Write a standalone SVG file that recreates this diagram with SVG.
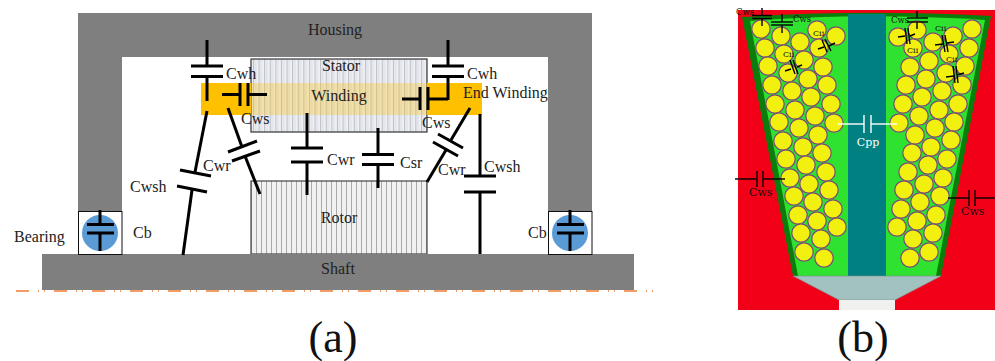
<svg xmlns="http://www.w3.org/2000/svg" width="995" height="361" viewBox="0 0 995 361">
<style>
text{font-family:"Liberation Serif","DejaVu Serif",serif;fill:#222}
.l{font-size:16px}
.cap{font-size:44px;fill:#111}
.s{font-family:"DejaVu Serif",serif;font-size:8.5px;fill:#111}
.t{font-family:"DejaVu Serif",serif;font-size:8px;fill:#111}
.c{text-anchor:middle}
.gr{fill:#7f7f7f}
line{stroke:#000;stroke-linecap:butt}
#connectors-a line{stroke-width:3}
#connectors-b line{stroke-width:1.4}
#connectors-b line.w{stroke:#fff}
.coil circle{fill:#f2f00f;stroke:#7a4a78;stroke-width:1.2;r:9.2px}
</style>
<defs>
<pattern id="st" width="5.6" height="10" patternUnits="userSpaceOnUse"><rect width="5.6" height="10" fill="#edeff4"/><rect x="1" width="1" height="10" fill="#b8bcc4"/><rect x="3.2" width="1" height="10" fill="#dcdee4"/></pattern>
<pattern id="ro" width="5" height="10" patternUnits="userSpaceOnUse"><rect width="5" height="10" fill="#f1f1f1"/><rect x="1" width="1" height="10" fill="#a9a9a9"/></pattern>
</defs>
<g id="housing">
<path class="gr" d="M78 13H592V211H548V57H122V211H78Z"/>
<text class="l c" x="335" y="35">Housing</text>
</g>
<g id="stator">
<rect x="251" y="59" width="176" height="73" fill="url(#st)" stroke="#333" stroke-width="1.2"/>
<text class="l c" x="341" y="71">Stator</text>
</g>
<g id="winding">
<rect x="201" y="83" width="50" height="32" fill="#ffc000"/>
<rect x="427" y="83" width="55" height="32" fill="#ffc000"/>
<rect x="251" y="83" width="176" height="32" fill="#ffc000" fill-opacity=".3"/>
<text class="l c" x="339" y="101">Winding</text>
<text class="l" x="463" y="98">End Winding</text>
</g>
<g id="rotor">
<rect x="251" y="181" width="176" height="73" fill="url(#ro)" stroke="#444" stroke-width="1.2"/>
<text class="l c" x="339" y="223">Rotor</text>
</g>
<g id="shaft">
<line x1="16" y1="291" x2="656" y2="291" style="stroke:#ed7d31;stroke-width:1.5;stroke-dasharray:13 9 1 5 1 9"/>
<rect x="42" y="254" width="592" height="36" fill="#7f7f7f"/>
<text class="l c" x="338" y="274">Shaft</text>
</g>
<g id="bearing-left">
<rect x="78.500" y="211.500" width="43.500" height="43" fill="#fff" stroke="#111" stroke-width="1"/>
<circle cx="100" cy="233" r="18" fill="#5b9bd5"/>
<text class="l" x="14" y="242">Bearing</text>
<text class="l" x="133" y="238">Cb</text>
</g>
<g id="bearing-right">
<rect x="548.500" y="211.500" width="43.500" height="43" fill="#fff" stroke="#111" stroke-width="1"/>
<circle cx="570" cy="233" r="18" fill="#5b9bd5"/>
<text class="l" x="528" y="238">Cb</text>
</g>
<g id="connectors-a">
<line x1="207" y1="40" x2="207" y2="66"/><line x1="191" y1="66" x2="223" y2="66"/><line x1="191" y1="76.500" x2="223" y2="76.500"/><line x1="207" y1="77" x2="207" y2="101"/>
<line x1="222" y1="94.500" x2="240" y2="94.500"/><line x1="240" y1="83" x2="240" y2="106"/><line x1="248" y1="83" x2="248" y2="106"/><line x1="248" y1="94.500" x2="267" y2="94.500"/>
<line x1="207" y1="111" x2="195" y2="172"/><line x1="180" y1="170" x2="211" y2="176"/><line x1="177" y1="186" x2="207" y2="192"/><line x1="192" y1="190" x2="183" y2="255"/>
<line x1="228" y1="108" x2="242" y2="147"/><line x1="228" y1="152" x2="257" y2="141"/><line x1="232" y1="161" x2="260" y2="151"/><line x1="245" y1="156" x2="260" y2="194"/>
<line x1="307" y1="113" x2="307" y2="148"/><line x1="291" y1="148" x2="323" y2="148"/><line x1="291" y1="162" x2="323" y2="162"/><line x1="307" y1="162" x2="307" y2="195"/>
<line x1="378" y1="128" x2="378" y2="154.500"/><line x1="362" y1="154.500" x2="394" y2="154.500"/><line x1="362" y1="164.500" x2="394" y2="164.500"/><line x1="378" y1="164.500" x2="378" y2="188"/>
<line x1="448" y1="40" x2="448" y2="66"/><line x1="432" y1="66" x2="464" y2="66"/><line x1="432" y1="76.500" x2="464" y2="76.500"/><line x1="448" y1="77" x2="448" y2="100"/>
<line x1="448" y1="99" x2="428" y2="99"/><line x1="428" y1="87" x2="428" y2="110"/><line x1="420" y1="87" x2="420" y2="110"/><line x1="420" y1="99" x2="402" y2="99"/>
<line x1="470" y1="108" x2="451" y2="140"/><line x1="438" y1="134" x2="463" y2="148"/><line x1="433" y1="142" x2="458" y2="156"/><line x1="446" y1="150" x2="427" y2="182"/>
<line x1="480" y1="114" x2="480" y2="176"/><line x1="464" y1="176" x2="496" y2="176"/><line x1="464" y1="192" x2="496" y2="192"/><line x1="480" y1="192" x2="480" y2="254"/>
<line x1="100" y1="210" x2="100" y2="224"/><line x1="87" y1="224.500" x2="114" y2="224.500"/><line x1="87" y1="233" x2="114" y2="233"/><line x1="100" y1="233" x2="100" y2="251"/>
<line x1="570" y1="210" x2="570" y2="224"/><line x1="557" y1="224.500" x2="584" y2="224.500"/><line x1="557" y1="233" x2="584" y2="233"/><line x1="570" y1="233" x2="570" y2="251"/>
</g>
<g id="labels-a">
<text class="l" x="226" y="79">Cwh</text><text class="l" x="467" y="79">Cwh</text>
<text class="l" x="241" y="124">Cws</text><text class="l" x="422" y="128">Cws</text>
<text class="l" x="203" y="171">Cwr</text><text class="l" x="327" y="165">Cwr</text><text class="l" x="438" y="175">Cwr</text>
<text class="l" x="400" y="168">Csr</text>
<text class="l" x="130" y="192">Cwsh</text><text class="l" x="484" y="172">Cwsh</text>
<text class="cap c" x="333" y="352">(a)</text>
</g>
<g id="slot">
<rect x="738" y="10" width="257" height="300" fill="#f20017"/>
<path d="M742 17Q860 9 991 16L941 276H793Z" fill="#0a7d0a"/>
<path d="M750 21Q860 12 985 20L936 276H798Z" fill="#2fe22f"/>
<rect x="848" y="14" width="38" height="262" fill="#008080"/>
<path d="M793 276H941L895 300H839Z" fill="#a2c1c1" stroke="#808a8a" stroke-width=".6"/>
<rect x="839" y="300" width="56" height="10" fill="#f0f0ee"/>
</g>
<g id="coils" class="coil">
<circle cx="761" cy="29" r="9"/><circle cx="781" cy="36" r="9"/><circle cx="800" cy="42" r="9"/><circle cx="817" cy="30" r="9"/><circle cx="836" cy="36" r="9"/><circle cx="819" cy="48" r="9"/><circle cx="765" cy="48" r="9"/><circle cx="784" cy="54" r="9"/><circle cx="804" cy="60" r="9"/><circle cx="823" cy="67" r="9"/><circle cx="768" cy="66" r="9"/><circle cx="788" cy="73" r="9"/><circle cx="808" cy="79" r="9"/><circle cx="827" cy="85" r="9"/><circle cx="772" cy="85" r="9"/><circle cx="792" cy="91" r="9"/><circle cx="811" cy="97" r="9"/><circle cx="831" cy="104" r="9"/><circle cx="775" cy="104" r="9"/><circle cx="795" cy="110" r="9"/><circle cx="815" cy="116" r="9"/><circle cx="779" cy="122" r="9"/><circle cx="799" cy="128" r="9"/><circle cx="818" cy="135" r="9"/><circle cx="834" cy="123" r="9"/><circle cx="783" cy="141" r="9"/><circle cx="803" cy="147" r="9"/><circle cx="822" cy="153" r="9"/><circle cx="786" cy="159" r="9"/><circle cx="806" cy="165" r="9"/><circle cx="826" cy="172" r="9"/><circle cx="790" cy="178" r="9"/><circle cx="809" cy="184" r="9"/><circle cx="829" cy="190" r="9"/><circle cx="794" cy="196" r="9"/><circle cx="813" cy="202" r="9"/><circle cx="833" cy="209" r="9"/><circle cx="798" cy="215" r="9"/><circle cx="817" cy="221" r="9"/><circle cx="837" cy="227" r="9"/><circle cx="801" cy="233" r="9"/><circle cx="821" cy="239" r="9"/><circle cx="804" cy="252" r="9"/><circle cx="824" cy="258" r="9"/>
<circle cx="898" cy="37" r="9"/><circle cx="917" cy="30" r="9"/><circle cx="913" cy="48" r="9"/><circle cx="933" cy="42" r="9"/><circle cx="953" cy="36" r="9"/><circle cx="972" cy="29" r="9"/><circle cx="949" cy="54" r="9"/><circle cx="969" cy="48" r="9"/><circle cx="910" cy="67" r="9"/><circle cx="929" cy="61" r="9"/><circle cx="946" cy="73" r="9"/><circle cx="965" cy="66" r="9"/><circle cx="906" cy="85" r="9"/><circle cx="926" cy="79" r="9"/><circle cx="962" cy="85" r="9"/><circle cx="942" cy="91" r="9"/><circle cx="903" cy="104" r="9"/><circle cx="922" cy="97" r="9"/><circle cx="958" cy="104" r="9"/><circle cx="939" cy="110" r="9"/><circle cx="919" cy="116" r="9"/><circle cx="899" cy="123" r="9"/><circle cx="915" cy="135" r="9"/><circle cx="935" cy="128" r="9"/><circle cx="954" cy="122" r="9"/><circle cx="912" cy="153" r="9"/><circle cx="931" cy="147" r="9"/><circle cx="951" cy="140" r="9"/><circle cx="908" cy="172" r="9"/><circle cx="928" cy="165" r="9"/><circle cx="947" cy="159" r="9"/><circle cx="904" cy="190" r="9"/><circle cx="924" cy="184" r="9"/><circle cx="943" cy="178" r="9"/><circle cx="901" cy="209" r="9"/><circle cx="920" cy="202" r="9"/><circle cx="940" cy="196" r="9"/><circle cx="897" cy="227" r="9"/><circle cx="917" cy="221" r="9"/><circle cx="936" cy="215" r="9"/><circle cx="933" cy="233" r="9"/><circle cx="913" cy="239" r="9"/><circle cx="929" cy="252" r="9"/><circle cx="910" cy="258" r="9"/>
</g>
<g id="connectors-b">
<line x1="762" y1="8" x2="762" y2="15.500"/><line x1="752" y1="15.500" x2="772" y2="15.500"/><line x1="752" y1="18.500" x2="772" y2="18.500"/><line x1="762" y1="18.500" x2="762" y2="26"/>
<line x1="782" y1="14" x2="782" y2="22"/><line x1="771" y1="22" x2="793" y2="22"/><line x1="771" y1="25" x2="793" y2="25"/><line x1="782" y1="25" x2="782" y2="33"/>
<line x1="917" y1="11" x2="917" y2="18"/><line x1="907" y1="18" x2="928" y2="18"/><line x1="907" y1="22" x2="928" y2="22"/><line x1="917" y1="22" x2="917" y2="29"/>
<line x1="818" y1="49" x2="824" y2="47"/><line x1="822" y1="40" x2="827" y2="52"/><line x1="825" y1="39" x2="831" y2="51"/><line x1="829" y1="46" x2="835" y2="43"/>
<line x1="785" y1="71" x2="791" y2="69"/><line x1="790" y1="60" x2="795" y2="74"/><line x1="793" y1="60" x2="798" y2="74"/><line x1="797" y1="67" x2="802" y2="65"/>
<line x1="898" y1="37" x2="905" y2="36"/><line x1="905" y1="28" x2="907" y2="44"/><line x1="908" y1="28" x2="910" y2="44"/><line x1="910" y1="36" x2="915" y2="34"/>
<line x1="935" y1="45" x2="943" y2="44"/><line x1="942" y1="35" x2="945" y2="52"/><line x1="945" y1="35" x2="948" y2="52"/><line x1="947" y1="43" x2="954" y2="42"/>
<line x1="946" y1="77" x2="954" y2="76"/><line x1="953" y1="66" x2="955" y2="83"/><line x1="956" y1="66" x2="958" y2="83"/><line x1="957" y1="75" x2="964" y2="73"/>
<line x1="735" y1="179" x2="757" y2="179"/><line x1="757" y1="171" x2="757" y2="187"/><line x1="763" y1="171" x2="763" y2="187"/><line x1="763" y1="179" x2="785" y2="179"/>
<line x1="948" y1="198" x2="969" y2="198"/><line x1="969" y1="190" x2="969" y2="206"/><line x1="975" y1="190" x2="975" y2="206"/><line x1="975" y1="198" x2="995" y2="198"/>
<line class="w" x1="837" y1="124" x2="864" y2="124"/><line class="w" x1="864" y1="115" x2="864" y2="133"/><line class="w" x1="871" y1="115" x2="871" y2="133"/><line class="w" x1="871" y1="124" x2="897" y2="124"/>
</g>
<g id="labels-b">
<text class="s" x="736" y="15">Cws</text><text class="s" x="793" y="22">Cws</text><text class="s" x="891" y="23">Cws</text>
<text class="t" x="813" y="36">Cii</text><text class="t" x="783" y="57">Cii</text><text class="t" x="907" y="53">Cii</text><text class="t" x="935" y="31">Cii</text><text class="t" x="946" y="62">Cii</text>
<text class="s" x="749" y="196" style="font-size:11px">Cws</text><text class="s" x="961" y="215" style="font-size:11px">Cws</text>
<text class="s c" x="868" y="146" style="fill:#fff;font-size:11px">Cpp</text>
<text class="cap c" x="863" y="352">(b)</text>
</g>
</svg>
